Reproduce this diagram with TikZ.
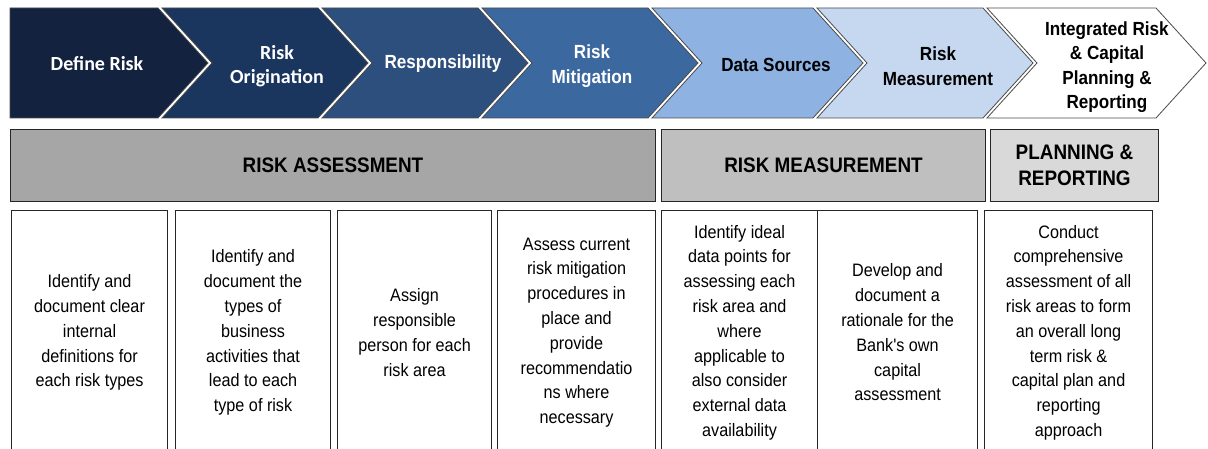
\documentclass[tikz,border=0pt]{standalone}
\usepackage{fontspec}
\setmainfont{Liberation Sans}
\newfontfamily\narrowfont[FakeStretch=0.9]{Liberation Sans}
\newfontfamily\calfont{Carlito}
\definecolor{chevA}{HTML}{13233F}
\definecolor{chevB}{HTML}{1A365E}
\definecolor{chevC}{HTML}{2D4F7E}
\definecolor{chevD}{HTML}{3C68A0}
\definecolor{chevE}{HTML}{8EB2E2}
\definecolor{chevF}{HTML}{C6D8F0}
\definecolor{chevG}{HTML}{FFFFFF}
\definecolor{headA}{HTML}{A6A6A6}
\definecolor{headB}{HTML}{BFBFBF}
\definecolor{headC}{HTML}{D9D9D9}
\tikzset{
  chev/.style={draw=black!70, line width=0.8pt},
  chevtext/.style={align=center, inner sep=0pt, font=\narrowfont\bfseries\fontsize{19}{24.5}\selectfont},
  caltext/.style={align=center, inner sep=0pt, text=white, font=\calfont\bfseries\fontsize{20}{24.5}\selectfont},
  head/.style={draw=black!85, line width=1pt, anchor=north west, inner sep=0pt, minimum height=72pt,
    align=center, font=\narrowfont\bfseries\fontsize{21}{26}\selectfont},
  task/.style={draw=black!85, line width=1.1pt, anchor=north west, inner sep=0pt, minimum height=244pt,
    align=center, font=\narrowfont\fontsize{18}{24.8}\selectfont}
}
\begin{document}
\begin{tikzpicture}[x=1pt,y=-1pt]
	\clip (0,0) rectangle (1208,449);
	\fill[white] (0,0) rectangle (1208,449);
	% chevrons of the process
	\foreach \xl/\xr/\nd/\col in {10/158/0/chevA, 162/318/50/chevB, 322/478/50/chevC, 482/648/50/chevD,
		652/813/50/chevE, 817/983/50/chevF, 987/1156/50/chevG}
		\path[chev, fill=\col] (\xl,8) -- (\xr,8) -- ({\xr+50},63) -- (\xr,118) -- (\xl,118) -- ({\xl+\nd},63) -- cycle;
	\node[caltext] (define) at (97,64) {Define Risk};
	\node[caltext] (origin) at (277,66) {Risk\\Origination};
	\node[chevtext, text=white] (resp) at (443,64) {Responsibility};
	\node[chevtext, text=white] (mitig) at (592,66) {Risk\\Mitigation};
	\node[chevtext] (data) at (776,65) {Data Sources};
	\node[chevtext] (measure) at (938,66) {Risk\\Measurement};
	\node[chevtext] (integr) at (1107,67) {Integrated Risk\\\& Capital\\Planning \&\\Reporting};
	% stage headers
	\node[head, fill=headA, minimum width=645pt] (assess) at (10,129) {RISK ASSESSMENT};
	\node[head, fill=headB, minimum width=324pt] (measurement) at (661,129) {RISK MEASUREMENT};
	\node[head, fill=headC, minimum width=168pt] (planning) at (990,129) {PLANNING \&\\REPORTING};
	% tasks
	\node[task, minimum width=156pt] (task1) at (11,210)
		{Identify and\\document clear\\internal\\definitions for\\each risk types};
	\node[task, minimum width=155pt] (task2) at (175,210)
		{Identify and\\document the\\types of\\business\\activities that\\lead to each\\type of risk};
	\node[task, minimum width=154pt] (task3) at (337,210)
		{Assign\\responsible\\person for each\\risk area};
	\node[task, minimum width=158pt] (task4) at (497,210)
		{Assess current\\risk mitigation\\procedures in\\place and\\provide\\recommendatio\\ns where\\necessary};
	\node[task, minimum width=156pt] (task5) at (661,210)
		{Identify ideal\\data points for\\assessing each\\risk area and\\where\\applicable to\\also consider\\external data\\availability};
	\node[task, minimum width=160pt] (task6) at (817,210)
		{Develop and\\document a\\rationale for the\\Bank's own\\capital\\assessment};
	\node[task, minimum width=168pt] (task7) at (984,210)
		{Conduct\\comprehensive\\assessment of all\\risk areas to form\\an overall long\\term risk \&\\capital plan and\\reporting\\approach};
\end{tikzpicture}
\end{document}
